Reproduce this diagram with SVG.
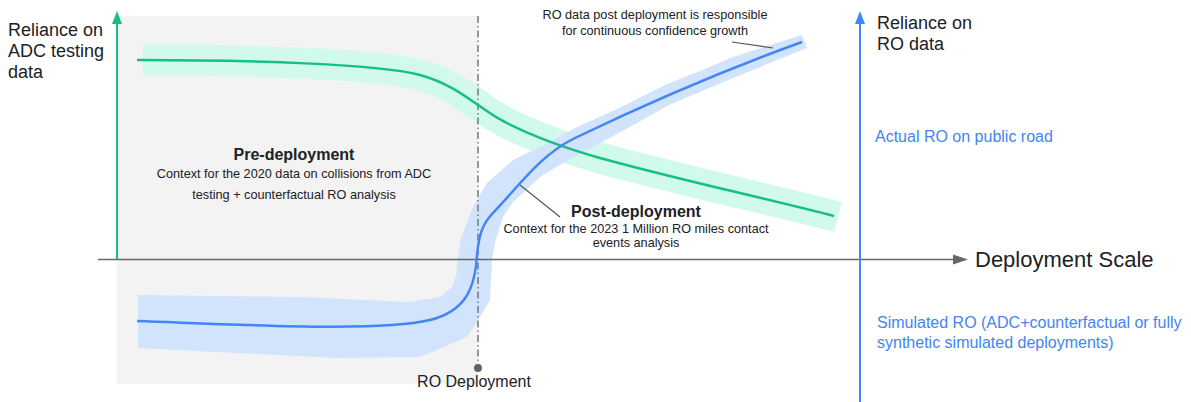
<svg xmlns="http://www.w3.org/2000/svg" width="1191" height="402" viewBox="0 0 1191 402">
<style>
text { font-family: "Liberation Sans", Arial, sans-serif; fill: #202124; }
.axlabel { font-size: 18px; }
.blue { fill: #4285F4; font-size: 16px; }
.title { font-size: 16px; font-weight: bold; text-anchor: middle; }
.small { font-size: 12.7px; text-anchor: middle; }
.leader { stroke: #555; stroke-width: 1.2; fill: none; }
</style>
<rect width="1191" height="402" fill="#ffffff"/>
<g id="pre-deployment-region">
  <rect x="117" y="16" width="361" height="368" fill="#f3f3f3"/>
</g>
<g id="adc-band">
  <path d="M143,60 C250,60 380,64 420,75 C460,86 480,110 505,122 C530,135 555,145 600,158 C680,180 760,197 838,217" fill="none" stroke="#d2faec" stroke-width="31"/>
</g>
<g id="ro-band">
  <polygon fill="#d2e3fc" points="138,295 300,297 410,302 440,297 452,287 456,276 458,260 461,238 473,207 487,183 513,160 540,147 577,127 615,110 667,84 700,71 733,57 802,35 807,48 733,78 700,92 667,106 630,127 587,150 563,163 540,177 513,202 503,217 495,243 492,260 490,300 480,317 467,337 420,357 337,358 138,348"/>
</g>
<g id="connectors">
  <line id="x-axis" x1="98" y1="259.5" x2="955" y2="259.5" stroke="#666" stroke-width="1.5"/>
  <polygon points="968,259.5 953,254.5 953,264.5" fill="#666"/>
  <line id="adc-axis" x1="117" y1="259" x2="117" y2="22" stroke="#16c083" stroke-width="2"/>
  <polygon points="117,11 112,24 122,24" fill="#16c083"/>
  <line id="ro-axis" x1="860" y1="402" x2="860" y2="22" stroke="#4285F4" stroke-width="2"/>
  <polygon points="860,11 855,24 865,24" fill="#4285F4"/>
  <line id="deployment-line" x1="478" y1="16" x2="478" y2="368" stroke="#777" stroke-width="1.5" stroke-dasharray="7 3 1.5 3"/>
  <circle cx="478" cy="368" r="4" fill="#5f6368"/>
  <line class="leader" x1="520" y1="185" x2="560" y2="217"/>
  <line class="leader" x1="732" y1="42" x2="773" y2="48"/>
</g>
<g id="adc-curve">
  <path d="M137,60 C250,60 380,64 420,75 C460,86 480,110 505,122 C530,135 555,145 600,158 C680,180 760,197 834,216" fill="none" stroke="#16c083" stroke-width="2.5"/>
</g>
<g id="ro-curve">
  <path d="M137,321 C250,325 380,332 430,320 C466,311 475,288 477,255 C479,235 482,225 492,214 C520,185 540,155 575,138 C650,102 730,68 802,42" fill="none" stroke="#4285F4" stroke-width="2.5"/>
</g>
<g id="adc-axis-label">
  <text class="axlabel" x="8" y="36">Reliance on</text>
  <text class="axlabel" x="8" y="57">ADC testing</text>
  <text class="axlabel" x="8" y="78">data</text>
</g>
<g id="ro-axis-label">
  <text class="axlabel" x="877" y="29">Reliance on</text>
  <text class="axlabel" x="877" y="50">RO data</text>
</g>
<g id="actual-ro-label">
  <text class="blue" x="875" y="142">Actual RO on public road</text>
</g>
<g id="simulated-ro-label">
  <text class="blue" x="877" y="328">Simulated RO (ADC+counterfactual or fully</text>
  <text class="blue" x="877" y="348">synthetic simulated deployments)</text>
</g>
<g id="x-axis-label">
  <text x="975" y="267" font-size="22">Deployment Scale</text>
</g>
<g id="pre-deployment-label">
  <text class="title" x="294" y="160">Pre-deployment</text>
  <text class="small" x="294" y="178">Context for the 2020 data on collisions from ADC</text>
  <text class="small" x="294" y="199">testing + counterfactual RO analysis</text>
</g>
<g id="post-deployment-label">
  <text class="title" x="636" y="217">Post-deployment</text>
  <text class="small" x="636" y="233">Context for the 2023 1 Million RO miles contact</text>
  <text class="small" x="636" y="247">events analysis</text>
</g>
<g id="growth-annotation">
  <text class="small" x="655" y="19">RO data post deployment is responsible</text>
  <text class="small" x="655" y="35">for continuous confidence growth</text>
</g>
<g id="ro-deployment-label">
  <text x="474" y="387" font-size="16" text-anchor="middle">RO Deployment</text>
</g>
</svg>
